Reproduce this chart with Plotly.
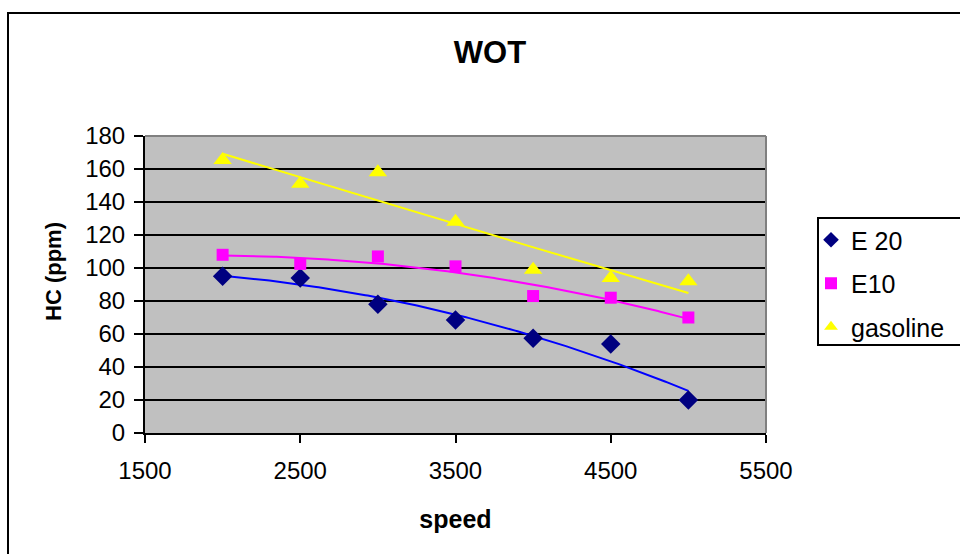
import numpy as np
import plotly.graph_objects as go

speed = [2000, 2500, 3000, 3500, 4000, 4500, 5000]
e20 = [95, 94, 78, 68.5, 57.5, 54, 20]
e10 = [108, 102.5, 107, 101, 83, 82, 70]
gasoline = [165.5, 151, 158, 128, 99, 94, 92]
names = ["E 20", "E10", "gasoline"]

series = [
    (names[0], e20, "#000080", "diamond", "#0000FF", 15),
    (names[1], e10, "#FF00FF", "square", "#FF00FF", 12),
    (names[2], gasoline, "#FFFF00", "triangle-up", "#FFFF00", 16),
]

fig = go.Figure()
xs = np.linspace(min(speed), max(speed), 200)
for name, ys, col, sym, lcol, sz in series:
    c = np.polyfit(speed, ys, 2)
    fig.add_trace(go.Scatter(x=xs, y=np.polyval(c, xs), mode="lines",
                             line=dict(color=lcol, width=2), showlegend=False,
                             hoverinfo="skip"))
for name, ys, col, sym, lcol, sz in series:
    fig.add_trace(go.Scatter(x=speed, y=ys, mode="markers", name=name,
                             legendgroup=name,
                             marker=dict(symbol=sym, color=col, size=sz,
                                         line=dict(width=0))))

L, R, T, B = 145, 960 - 766, 136, 554 - 433
pw, ph = 960 - L - R, 554 - T - B


def px(x):
    return (x - L) / pw


def py(y):
    return 1 - (y - T) / ph


fig.update_layout(
    width=960, height=554,
    margin=dict(l=L, r=R, t=T, b=B, autoexpand=False),
    paper_bgcolor="white", plot_bgcolor="#C0C0C0",
    font=dict(family="Liberation Sans, Arial, sans-serif", size=24, color="black"),
    title=dict(text="<b>WOT</b>", x=490 / 960, xanchor="center",
               y=1 - 52 / 554, yanchor="middle", font=dict(size=31)),
    xaxis=dict(range=[1500, 5500], dtick=1000, tick0=1500, showgrid=False,
               showline=True, linecolor="black", linewidth=2,
               ticks="outside", ticklen=8, tickwidth=2, tickcolor="black",
               ticklabelstandoff=7,
               title=dict(text="<b>speed</b>", standoff=28, font=dict(size=25)),
               zeroline=False, fixedrange=True),
    yaxis=dict(range=[0, 180], dtick=20, showgrid=True, gridcolor="black",
               gridwidth=2, showline=True, linecolor="black", linewidth=2,
               ticks="outside", ticklen=9, tickwidth=2, tickcolor="black",
               ticklabelstandoff=4,
               zeroline=False, fixedrange=True),
    annotations=[dict(text="<b>HC (ppm)</b>", xref="paper", yref="paper",
                      x=px(53), y=py(272), xanchor="center", yanchor="middle",
                      textangle=-90, showarrow=False, font=dict(size=22))],
    legend=dict(x=px(811), y=py(217), xanchor="left", yanchor="top",
                borderwidth=0, bgcolor="rgba(0,0,0,0)",
                font=dict(size=25), itemsizing="constant", tracegroupgap=8,
                itemwidth=30),
    shapes=[
        dict(type="rect", xref="paper", yref="paper",
             x0=px(8), x1=px(990), y0=py(580), y1=py(13),
             line=dict(color="black", width=2), fillcolor="rgba(0,0,0,0)", layer="below"),
        dict(type="rect", xref="paper", yref="paper",
             x0=px(818), x1=px(985), y0=py(345), y1=py(218),
             line=dict(color="black", width=2), fillcolor="white", layer="below"),
        dict(type="line", xref="paper", yref="paper", x0=0, x1=1, y0=1, y1=1,
             line=dict(color="#808080", width=2)),
        dict(type="line", xref="paper", yref="paper", x0=1, x1=1, y0=0, y1=1,
             line=dict(color="#808080", width=2)),
    ],
)

fig.write_html("out.html")
